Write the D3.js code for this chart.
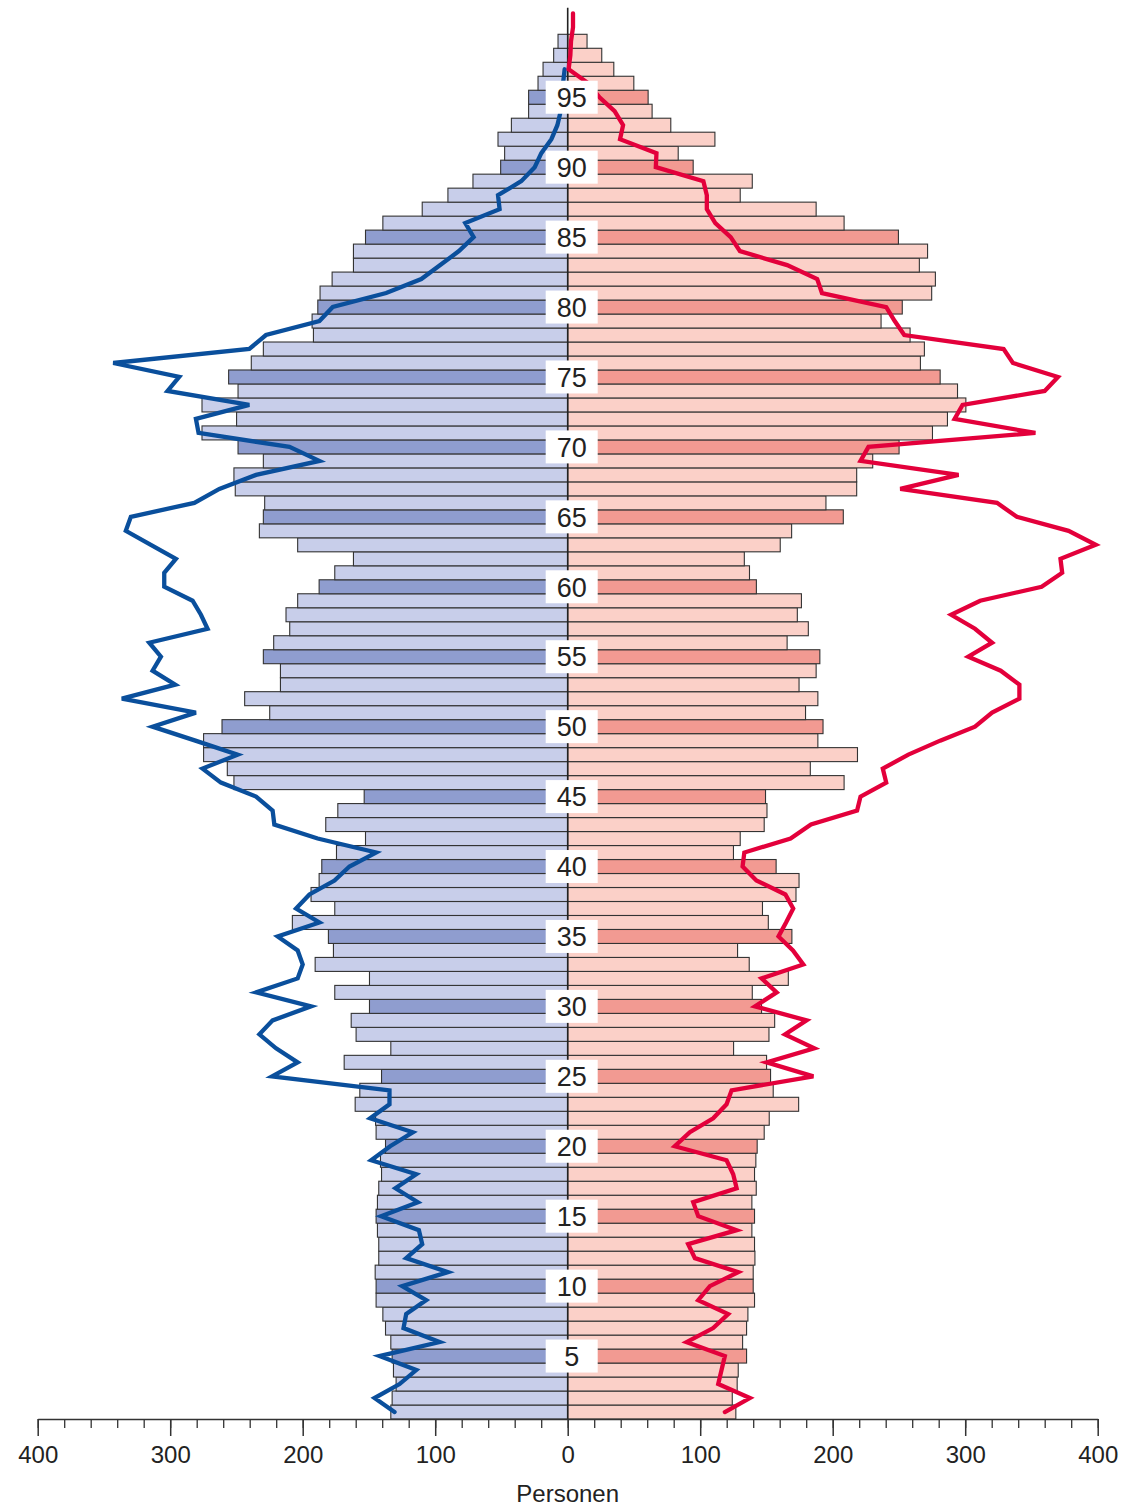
<!DOCTYPE html>
<html>
<head>
<meta charset="utf-8">
<script src="https://cdn.jsdelivr.net/npm/d3@7"></script>
<style>
  html, body { margin: 0; padding: 0; background: #fff; }
  svg { display: block; }
  text { font-family: "Liberation Sans", Arial, sans-serif; fill: #222; }
</style>
</head>
<body>
<svg id="chart" width="1127" height="1511"></svg>
<script>
// Ages 1..99 (bars)
const ages = d3.range(1, 100);

// Male population per age (bars, left side), ages 1..99
const male = [
  133.5,132.5,129.5,131.5,132.5,133.5,137.5,139.5,144.6,144.6,
  145.3,142.6,142.6,143.6,144.6,143.6,142.6,140.5,141.3,137.5,
  144.6,145,160.4,156.9,140.5,168.7,133.5,159.7,163.4,149.6,
  175.8,149.6,190.6,176.8,180.6,207.8,175.8,193.7,187.6,185.6,
  174.5,152.6,182.6,173.5,153.6,251.9,256.9,274.8,274.8,260.9,
  224.9,243.8,216.8,216.8,229.7,221.9,209.8,212.6,203.8,187.6,
  175.8,161.7,203.8,232.7,229.7,228.7,250.9,251.9,229.7,248.8,
  276,249.9,276,248.8,255.9,238.8,229.7,191.9,192.9,188.6,
  186.9,177.8,161.7,161.7,152.6,139.5,109.8,90.4,71.5,50.6,
  47.6,52.6,42.5,29.5,29.5,22.4,18.6,10.6,7.3
];

// Female population per age (bars, right side), ages 1..99
const female = [
  126.9,124.2,127.9,128.7,135,132,135,136,141,140,
  140,141.3,141,139,141,139,142.3,141,142,143,
  148.3,152.1,174.3,155.1,153.1,150.1,125.2,151.9,156.2,146.3,
  139.3,166.5,137,128.2,169.2,151.4,147,172.3,174.6,157.3,
  125.1,130.2,148.3,150.4,149.3,208.6,183.1,218.7,188.8,192.7,
  179.5,188.8,174.6,187.5,190.3,165.6,181.6,173.3,176.4,142.4,
  137.2,133.3,160.4,169,208,194.9,218.1,218.1,230.2,250.1,
  275.3,286.6,300.5,294.2,281.1,266.2,269.2,258.4,236.5,252.5,
  274.7,277.5,265.4,271.6,249.6,208.6,187.5,130.2,139.3,94.7,
  83.4,111.1,77.8,63.7,60.7,49.9,34.8,25.7,14.6
];

// Comparison line, males, ages 1..97
const maleLineAges = d3.range(1, 98);
const maleLine = [
  130.7,145.8,126.9,114.3,142,96.7,123.9,121.9,106.8,124.9,
  90.4,121.9,109.8,112.3,140.8,113.1,130,114.3,148.3,134,
  116.9,149.1,134.5,134.5,223.1,203.8,220.1,232.7,222.7,193.7,
  235.2,203.8,200,203.8,218.9,187.4,205,194.9,176,164.7,
  144.6,188.7,221.4,222.7,235.2,261.7,275.6,249.1,281,313.3,
  280.6,336.5,296.2,313.3,307,315.8,271.8,276.8,283.1,304.5,
  304.5,295.7,314.6,333.5,329.7,281.8,262.9,235.2,187.4,210,
  278.6,280.6,240.3,302,293.2,343,240.3,227.7,187.4,177.3,
  137,110.5,96.2,82.1,71,77.3,51.4,52.6,35,24.9,
  19.9,12.3,7.8,5.3,4.3,3.5,2.3
];

// Comparison line, females, ages 1..101
const femaleLineAges = d3.range(1, 102);
const femaleLine = [
  118.6,137.5,113.6,116.1,118.6,89.7,109.8,121.1,98.5,107.3,
  128.7,96,90.9,127.5,98.5,94.7,127.5,124.9,119.9,80.8,
  92.2,109.8,119.9,123.7,185.4,150.1,186.1,164,180.3,141.3,
  157.7,146.3,177.8,170,159.1,164.8,170.2,164.3,142.4,132,
  133.3,168.2,183.6,218.4,221,240.4,237.8,257.1,281.1,307.4,
  320.3,340.9,340.9,326.8,302.3,320.3,307.4,289.4,311.3,357.7,
  373.2,371.9,398.5,378,339,324,251,295,221,227,
  353,292,298,360,370,336,329,254,246.8,240.4,
  191.9,188.3,165.6,130,123,111.4,105,105,102.4,66.5,
  67,39.5,41.8,35.4,24,15.6,0.7,2,2.5,4,
  4
];

// Age labels shown in the middle
const ageLabels = d3.range(5, 100, 5);

// Axis ticks
const majorTicks = [-400, -300, -200, -100, 0, 100, 200, 300, 400];
const minorTicks = d3.range(-400, 401, 20);
const xTitle = "Personen";

// ---------------------------------------------------------------
const svg = d3.select("#chart");
const x = d3.scaleLinear().domain([-400, 400]).range([37.7, 1097.7]);
const y = d3.scaleLinear().domain([0.5, 99.5]).range([1419, 34.3]);
const axisY = 1419;

const col = {
  mLight: "#c8ceea", mDark: "#8f9dcf",
  fLight: "#fbd0c8", fDark: "#f29a92",
  blue: "#0a4f9c", red: "#e3003b", stroke: "#333"
};

const rows = ages.map((a, i) => ({ age: a, m: male[i], f: female[i] }));

// Male bars
svg.append("g").selectAll("rect").data(rows).join("rect")
  .attr("x", d => x(-d.m))
  .attr("y", d => y(d.age + 0.5))
  .attr("width", d => x(0) - x(-d.m))
  .attr("height", d => y(d.age - 0.5) - y(d.age + 0.5))
  .attr("fill", d => d.age % 5 === 0 ? col.mDark : col.mLight)
  .attr("stroke", col.stroke)
  .attr("stroke-width", 1.1);

// Female bars
svg.append("g").selectAll("rect").data(rows).join("rect")
  .attr("x", x(0))
  .attr("y", d => y(d.age + 0.5))
  .attr("width", d => x(d.f) - x(0))
  .attr("height", d => y(d.age - 0.5) - y(d.age + 0.5))
  .attr("fill", d => d.age % 5 === 0 ? col.fDark : col.fLight)
  .attr("stroke", col.stroke)
  .attr("stroke-width", 1.1);

// Center line
svg.append("line")
  .attr("x1", x(0)).attr("x2", x(0))
  .attr("y1", y(101.4)).attr("y2", axisY)
  .attr("stroke", "#222").attr("stroke-width", 1.6);

// Comparison lines
const mPts = maleLineAges.map((a, i) => ({ age: a, v: -maleLine[i] }));
const fPts = femaleLineAges.map((a, i) => ({ age: a, v: femaleLine[i] }));
const line = d3.line().x(d => x(d.v)).y(d => y(d.age));

svg.append("path").datum(mPts)
  .attr("d", line).attr("fill", "none")
  .attr("stroke", col.blue).attr("stroke-width", 4.3)
  .attr("stroke-linejoin", "miter").attr("stroke-linecap", "round");

svg.append("path").datum(fPts)
  .attr("d", line).attr("fill", "none")
  .attr("stroke", col.red).attr("stroke-width", 4.3)
  .attr("stroke-linejoin", "miter").attr("stroke-linecap", "round");

// Age label boxes
const lab = svg.append("g").selectAll("g").data(ageLabels).join("g")
  .attr("transform", d => `translate(${x(0) + 4},${y(d)})`);
lab.append("rect")
  .attr("x", -26).attr("y", -16.5)
  .attr("width", 52).attr("height", 33)
  .attr("fill", "#fff");
lab.append("text")
  .attr("text-anchor", "middle")
  .attr("dy", "0.36em")
  .attr("font-size", 27)
  .text(d => d);

// Axis
const gAxis = svg.append("g").attr("transform", `translate(0,${axisY})`);
gAxis.append("g")
  .call(d3.axisBottom(x).tickValues(minorTicks).tickSize(9).tickFormat("").tickSizeOuter(0))
  .call(g => g.select(".domain").remove())
  .call(g => g.selectAll("line").attr("stroke", "#333").attr("stroke-width", 1.3));
gAxis.append("g")
  .call(d3.axisBottom(x).tickValues(majorTicks).tickSize(17).tickPadding(10)
        .tickSizeOuter(0).tickFormat(d => Math.abs(d)))
  .call(g => g.select(".domain").attr("stroke", "#333").attr("stroke-width", 1.5))
  .call(g => g.selectAll("line").attr("stroke", "#333").attr("stroke-width", 1.5))
  .call(g => g.selectAll("text")
        .attr("font-size", 24)
        .attr("font-family", "'Liberation Sans', Arial, sans-serif")
        .attr("fill", "#222"));

svg.append("text")
  .attr("x", x(0)).attr("y", 1502)
  .attr("text-anchor", "middle")
  .attr("font-size", 24)
  .text(xTitle);
</script>
</body>
</html>
